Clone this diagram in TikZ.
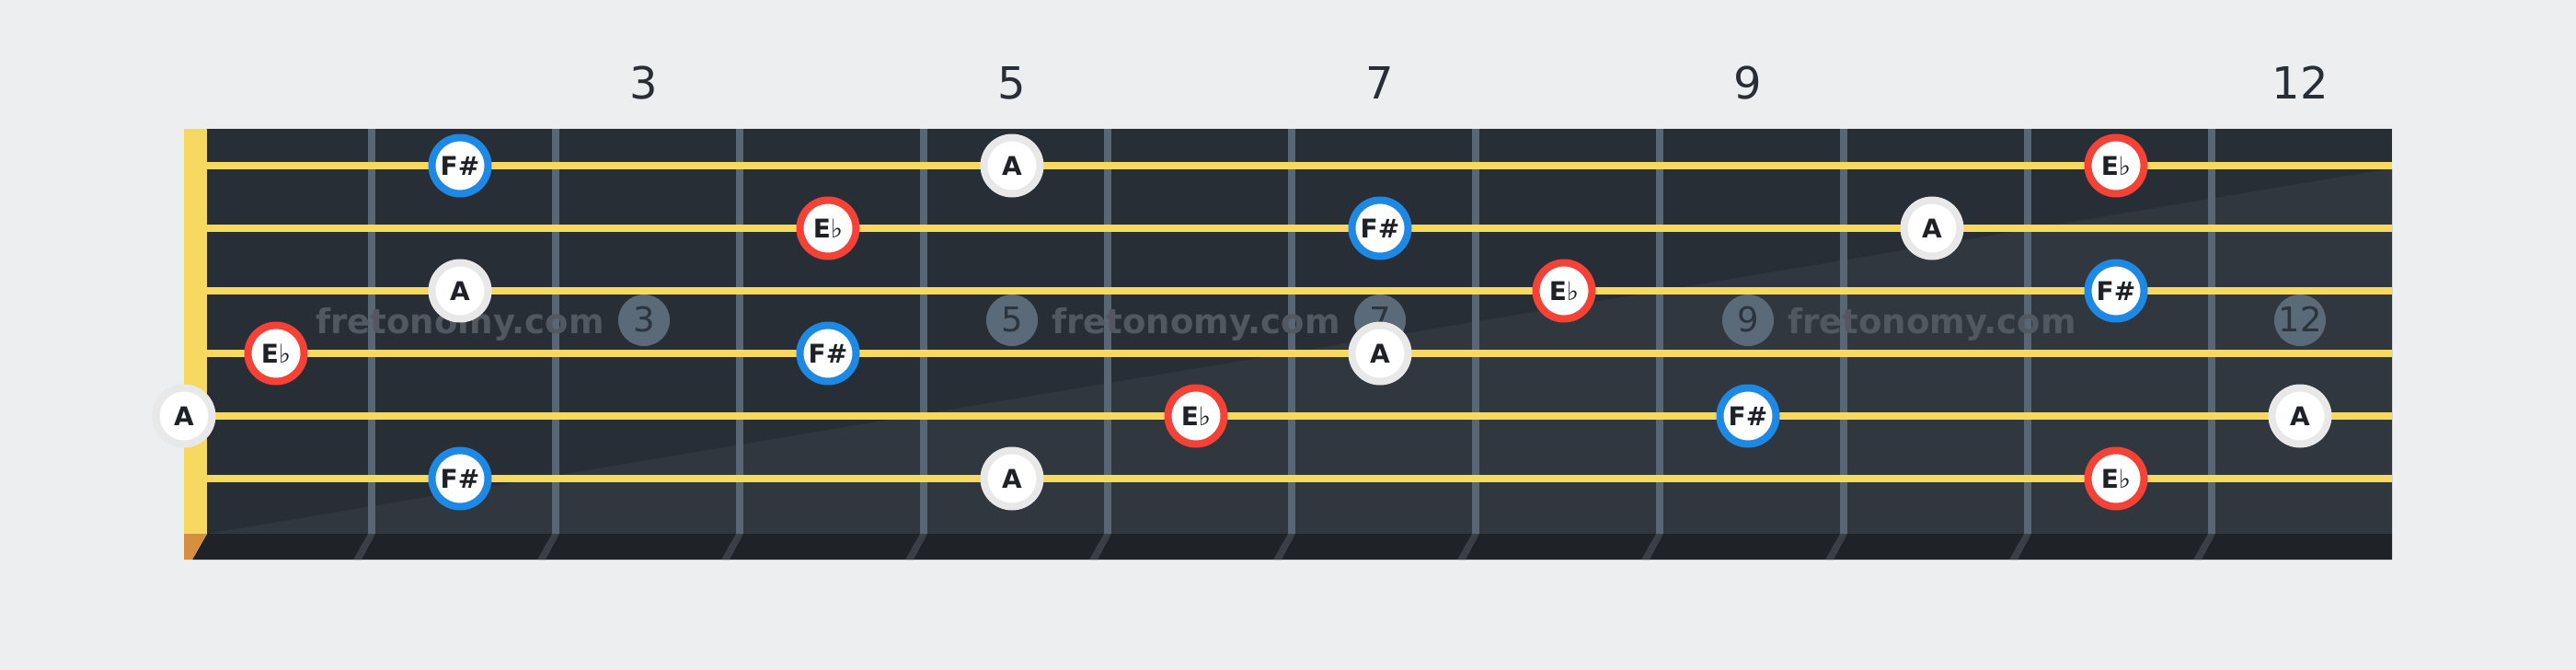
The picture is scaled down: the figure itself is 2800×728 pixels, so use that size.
\documentclass[tikz,border=0pt]{standalone}
\usepackage{fontspec}
\setmainfont{DejaVu Sans}
\definecolor{bgc}{RGB}{237,238,240}
\definecolor{boardc}{RGB}{40,46,54}
\definecolor{boardlc}{RGB}{49,55,63}
\definecolor{fretc}{RGB}{88,103,117}
\definecolor{stringc}{RGB}{247,216,96}
\definecolor{stripc}{RGB}{31,35,40}
\definecolor{shadowc}{RGB}{58,63,70}
\definecolor{orangec}{RGB}{214,143,64}
\definecolor{markc}{RGB}{90,106,120}
\definecolor{marktextc}{RGB}{44,52,62}
\definecolor{wmc}{RGB}{82,88,97}
\definecolor{bluec}{RGB}{30,136,229}
\definecolor{redc}{RGB}{244,67,54}
\definecolor{grayring}{RGB}{232,232,232}
\definecolor{notetext}{RGB}{30,33,38}
\definecolor{numc}{RGB}{40,46,54}
\begin{document}
\begin{tikzpicture}[x=1pt,y=-1pt,
  note/.style={circle,inner sep=0pt,minimum size=61pt,line width=8pt,fill=white,
    text=notetext,font=\fontsize{28}{34}\selectfont\bfseries,text height=20.5pt,text depth=0pt},
  sharpnote/.style={note,draw=bluec},
  flatnote/.style={note,draw=redc},
  rootnote/.style={note,draw=grayring},
  marker/.style={circle,fill=markc,inner sep=0pt,minimum size=56pt},
  markertext/.style={anchor=base,text=marktextc,font=\fontsize{37}{40}\selectfont,inner sep=0pt},
  watermark/.style={anchor=base,text=wmc,font=\fontsize{37}{40}\selectfont\bfseries,inner sep=0pt},
  topnum/.style={anchor=base,text=numc,font=\fontsize{48}{56}\selectfont,inner sep=0pt}]
\useasboundingbox (0,0) rectangle (2800,728);
\fill[bgc] (0,0) rectangle (2800,728);
% board
\fill[boardc] (225,140) rectangle (2600,580);
\fill[boardlc] (225,580) -- (2600,183) -- (2600,580) -- cycle;
% bottom strip
\fill[stripc] (225,580) -- (2600,580) -- (2600,608) -- (209,608) -- cycle;
\fill[orangec] (200,580) -- (225,580) -- (209,608) -- (200,608) -- cycle;
\foreach \k in {1,...,11}{
  \fill[shadowc] ({200+200*\k},580) -- ({208+200*\k},580) -- ({193+200*\k},608) -- ({184+200*\k},608) -- cycle;
}
% frets
\foreach \k in {1,...,11}{
  \fill[fretc] ({200+200*\k},140) rectangle ({208+200*\k},580);
}
% fret markers
\foreach \f in {3,5,7,9,12}{
  \node[marker] (m\f) at ({100+200*\f},348) {};
  \node[markertext] (mt\f) at ({100+200*\f},360) {\f};
}
% watermarks
\node[watermark] (w1) at (500,362) {fretonomy.com};
\node[watermark] (w2) at (1300,362) {fretonomy.com};
\node[watermark] (w3) at (2100,362) {fretonomy.com};
% nut
\fill[stringc] (200,140) rectangle (225,580);
% strings
\foreach \s/\y in {1/180,2/248,3/316,4/384,5/452,6/520}{
  \fill[stringc] (225,{\y-4}) rectangle (2600,{\y+4});
}
% top numbers
\foreach \f in {3,5,7,9,12}{
  \node[topnum] (t\f) at ({100+200*\f},107) {\f};
}
% notes
\newcommand{\flatlabel}{E{\fontseries{m}\selectfont ♭}}
% string 1
\node[sharpnote] (n1a) at (500,180) {F\#};
\node[rootnote] (n1b) at (1100,180) {A};
\node[flatnote] (n1c) at (2300,180) {\flatlabel};
% string 2
\node[flatnote] (n2a) at (900,248) {\flatlabel};
\node[sharpnote] (n2b) at (1500,248) {F\#};
\node[rootnote] (n2c) at (2100,248) {A};
% string 3
\node[rootnote] (n3a) at (500,316) {A};
\node[flatnote] (n3b) at (1700,316) {\flatlabel};
\node[sharpnote] (n3c) at (2300,316) {F\#};
% string 4
\node[flatnote] (n4a) at (300,384) {\flatlabel};
\node[sharpnote] (n4b) at (900,384) {F\#};
\node[rootnote] (n4c) at (1500,384) {A};
% string 5
\node[rootnote] (n5a) at (200,452) {A};
\node[flatnote] (n5b) at (1300,452) {\flatlabel};
\node[sharpnote] (n5c) at (1900,452) {F\#};
\node[rootnote] (n5d) at (2500,452) {A};
% string 6
\node[sharpnote] (n6a) at (500,520) {F\#};
\node[rootnote] (n6b) at (1100,520) {A};
\node[flatnote] (n6c) at (2300,520) {\flatlabel};
\end{tikzpicture}
\end{document}
